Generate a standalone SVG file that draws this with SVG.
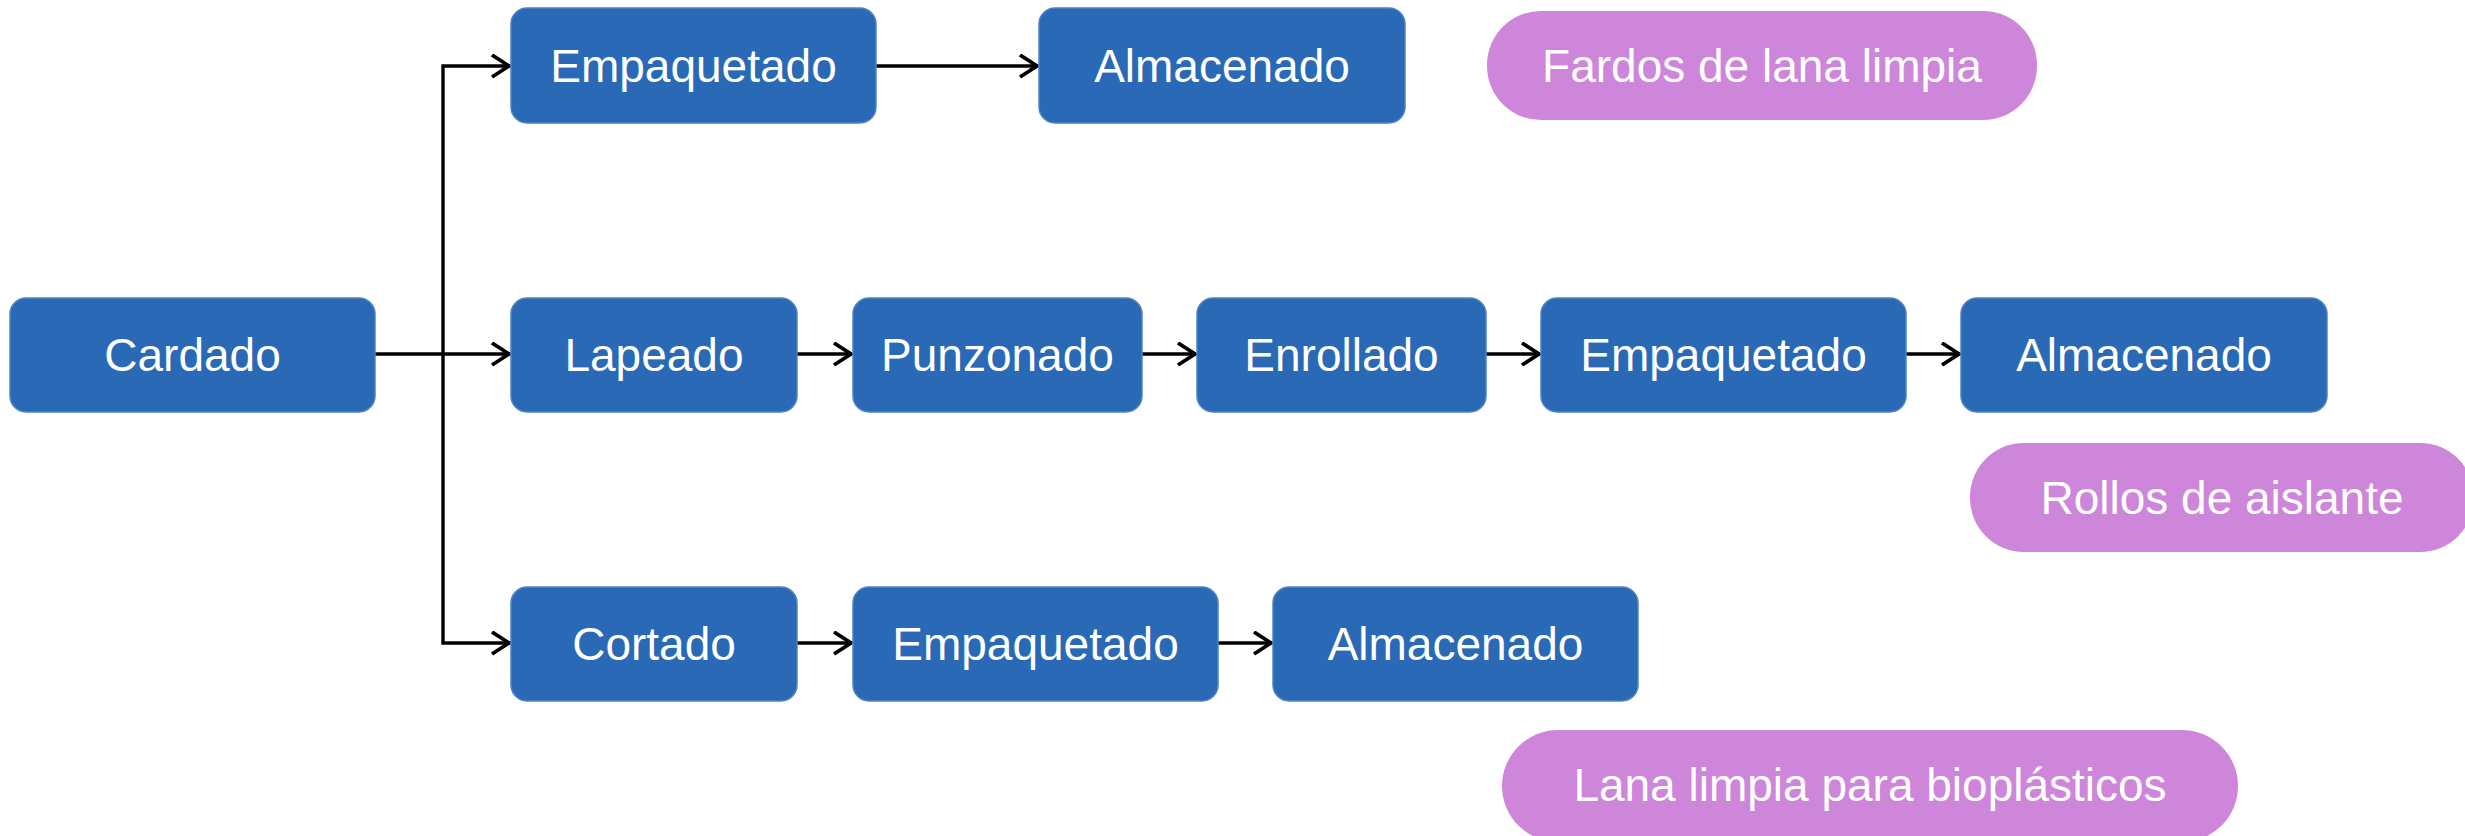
<svg xmlns="http://www.w3.org/2000/svg" width="2465" height="836" viewBox="0 0 2465 836">
<style>
.box{fill:#2A69B6;stroke:#4F83C4;stroke-width:1.5}
.pill{fill:#CE86DB}
.t{font-family:"Liberation Sans",Arial,sans-serif;font-size:46px;fill:#ffffff;text-anchor:middle}
.c{fill:none;stroke:#000;stroke-width:3.4}
</style>
<defs>
<marker id="ah" markerUnits="userSpaceOnUse" markerWidth="30" markerHeight="30" refX="21" refY="12" orient="auto" viewBox="0 0 30 30">
<path d="M3,1 L20,12 L3,23" fill="none" stroke="#000" stroke-width="3.8" stroke-linejoin="miter"/>
</marker>
</defs>
<rect width="2465" height="836" fill="#fff"/>
<g id="connectors">
<path class="c" d="M375,354 H510" marker-end="url(#ah)"/>
<path class="c" d="M443,354 V66 H510" marker-end="url(#ah)"/>
<path class="c" d="M443,354 V643 H510" marker-end="url(#ah)"/>
<path class="c" d="M876,66 H1038" marker-end="url(#ah)"/>
<path class="c" d="M797,354 H852" marker-end="url(#ah)"/>
<path class="c" d="M1142,354 H1196" marker-end="url(#ah)"/>
<path class="c" d="M1486,354 H1540" marker-end="url(#ah)"/>
<path class="c" d="M1906,354 H1960" marker-end="url(#ah)"/>
<path class="c" d="M797,643 H852" marker-end="url(#ah)"/>
<path class="c" d="M1218,643 H1272" marker-end="url(#ah)"/>
</g>
<g id="cardado"><rect class="box" x="10" y="298" width="365" height="114" rx="16"/><text class="t" x="192.5" y="371">Cardado</text></g>
<g id="empaquetado1"><rect class="box" x="511" y="8" width="365" height="115" rx="16"/><text class="t" x="693.5" y="82">Empaquetado</text></g>
<g id="almacenado1"><rect class="box" x="1039" y="8" width="366" height="115" rx="16"/><text class="t" x="1222" y="82">Almacenado</text></g>
<g id="fardos"><rect class="pill" x="1487" y="11" width="550" height="109" rx="54"/><text class="t" x="1762" y="82">Fardos de lana limpia</text></g>
<g id="lapeado"><rect class="box" x="511" y="298" width="286" height="114" rx="16"/><text class="t" x="654" y="371">Lapeado</text></g>
<g id="punzonado"><rect class="box" x="853" y="298" width="289" height="114" rx="16"/><text class="t" x="997.5" y="371">Punzonado</text></g>
<g id="enrollado"><rect class="box" x="1197" y="298" width="289" height="114" rx="16"/><text class="t" x="1341.5" y="371">Enrollado</text></g>
<g id="empaquetado2"><rect class="box" x="1541" y="298" width="365" height="114" rx="16"/><text class="t" x="1723.5" y="371">Empaquetado</text></g>
<g id="almacenado2"><rect class="box" x="1961" y="298" width="366" height="114" rx="16"/><text class="t" x="2144" y="371">Almacenado</text></g>
<g id="rollos"><rect class="pill" x="1970" y="443" width="504" height="109" rx="54"/><text class="t" x="2222" y="514">Rollos de aislante</text></g>
<g id="cortado"><rect class="box" x="511" y="587" width="286" height="114" rx="16"/><text class="t" x="654" y="660">Cortado</text></g>
<g id="empaquetado3"><rect class="box" x="853" y="587" width="365" height="114" rx="16"/><text class="t" x="1035.5" y="660">Empaquetado</text></g>
<g id="almacenado3"><rect class="box" x="1273" y="587" width="365" height="114" rx="16"/><text class="t" x="1455.5" y="660">Almacenado</text></g>
<g id="lana"><rect class="pill" x="1502" y="730" width="736" height="112" rx="56"/><text class="t" x="1870" y="801">Lana limpia para bioplásticos</text></g>
</svg>
